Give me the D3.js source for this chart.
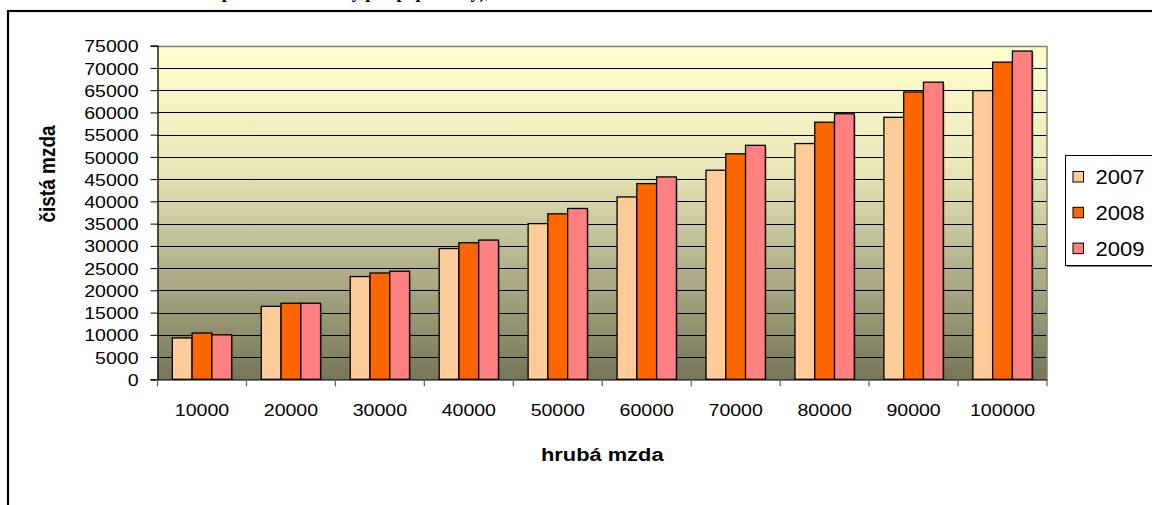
<!DOCTYPE html>
<html><head><meta charset="utf-8">
<script src="https://cdn.jsdelivr.net/npm/d3@7"></script>
<style>
html,body{margin:0;padding:0;background:#fff;}
svg{display:block;}
text{font-family:"Liberation Sans",Arial,sans-serif;}
</style></head>
<body>
<svg id="c" width="1152" height="505"></svg>
<script>
const categories = ["10000","20000","30000","40000","50000","60000","70000","80000","90000","100000"];
const years = ["2007","2008","2009"];
const v2007 = [9300,16400,23100,29400,35000,41000,47000,53000,58900,64900];
const v2008 = [10400,17100,23900,30700,37200,44000,50700,57800,64600,71300];
const v2009 = [10000,17100,24300,31300,38400,45500,52600,59700,66800,73800];
const yTicks = [0,5000,10000,15000,20000,25000,30000,35000,40000,45000,50000,55000,60000,65000,70000,75000];
const colors = ["#FFCC99","#FF6600","#FF8080"];
const title = "Čistá mzda podle hrubé mzdy pro poplatníky),";
const xTitle = "hrubá mzda";
const yTitle = "čistá mzda";

const series = [v2007, v2008, v2009];
const svg = d3.select("#c");
const L = 157.5, R = 1047, T = 45.7, B = 379.3;

const x = d3.scaleBand().domain(categories).range([L, R]).paddingInner(0).paddingOuter(0);
const xi = d3.scaleBand().domain(years).range([0, x.bandwidth()]).paddingInner(0).paddingOuter(0.75);
const y = d3.scaleLinear().domain([0, 75000]).range([B, T]);

// outer frame and title (clipped at the top edge, as in the reference)
svg.append("text").attr("x", 490).attr("y", -2).attr("text-anchor","end")
  .style("font-family","'Liberation Serif','Times New Roman',serif").style("font-weight","bold").style("font-size","18px")
  .text(title);
svg.append("rect").attr("x",8).attr("y",11).attr("width",1200).attr("height",600)
  .attr("fill","none").attr("stroke","#000").attr("stroke-width",2.2);

// plot background gradient
const defs = svg.append("defs");
const g = defs.append("linearGradient").attr("id","bg").attr("x1",0).attr("y1",0).attr("x2",0).attr("y2",1);
g.append("stop").attr("offset","0%").attr("stop-color","#FFFFCC");
g.append("stop").attr("offset","35%").attr("stop-color","#ECE9BA");
g.append("stop").attr("offset","100%").attr("stop-color","#767658");
svg.append("rect").attr("x",L).attr("y",T).attr("width",R-L).attr("height",B-T).attr("fill","url(#bg)");

// gridlines
svg.append("g").selectAll("line").data(yTicks.filter(d=>d>0 && d<75000)).join("line")
  .attr("x1",L).attr("x2",R).attr("y1",d=>Math.round(y(d))+0.5).attr("y2",d=>Math.round(y(d))+0.5)
  .attr("stroke","#000").attr("stroke-width",1);
// top & right border
svg.append("path").attr("d",`M${L},${Math.round(T)+0.5}H${R}V${B}`).attr("fill","none").attr("stroke","#808080").attr("stroke-width",1.5);

// bars
const groups = svg.append("g").selectAll("g").data(categories).join("g")
  .attr("transform", d=>`translate(${x(d)},0)`);
groups.each(function(cat, ci){
  const gg = d3.select(this);
  years.forEach((yr, si)=>{
    const v = series[si][ci];
    gg.append("rect").attr("x", xi(yr)+1.5).attr("y", y(v)+1.5).attr("width", xi.bandwidth()).attr("height", B - y(v)-1.5)
      .attr("fill","#000").attr("opacity",0.25);
  });
  years.forEach((yr, si)=>{
    const v = series[si][ci];
    gg.append("rect").attr("x", xi(yr)).attr("y", y(v)).attr("width", xi.bandwidth()).attr("height", B - y(v))
      .attr("fill", colors[si]).attr("stroke","#000").attr("stroke-width",1.3);
  });
});

// y axis
const sx = 1.15;
const ya = svg.append("g").attr("transform",`translate(${L},0)`)
  .call(d3.axisLeft(y).tickValues(yTicks).tickSize(7).tickPadding(0).tickFormat(d3.format("d")));
ya.select(".domain").attr("stroke","#000").attr("stroke-width",1.3);
ya.selectAll(".tick line").attr("stroke","#000");
ya.selectAll(".tick text").attr("x", -19/sx).attr("dy","0.36em").attr("transform",`scale(${sx},1)`)
  .style("font-size","17px").attr("fill","#000");

// x axis
const xa = svg.append("g").attr("transform",`translate(0,${B})`)
  .call(d3.axisBottom(x).tickSize(0).tickPadding(0));
xa.select(".domain").attr("stroke","#000").attr("stroke-width",1.3);
xa.selectAll(".tick text").remove();
xa.selectAll(".tick").append("text").attr("transform",`scale(${sx},1)`).attr("x",0).attr("y",37)
  .attr("text-anchor","middle").attr("fill","#000").style("font-size","17px").text(d=>d);
// category boundary ticks
svg.append("g").selectAll("line").data(categories.concat(["end"])).join("line")
  .attr("x1",(d,i)=> i<categories.length ? x(d) : R).attr("x2",(d,i)=> i<categories.length ? x(d) : R)
  .attr("y1",B).attr("y2",B+7).attr("stroke","#666").attr("stroke-width",1.3);

// axis titles
svg.append("text").attr("transform",`translate(${(L+R)/2},461) scale(${sx},1)`).attr("text-anchor","middle")
  .style("font-size","19px").style("font-weight","bold").text(xTitle);
svg.append("text").attr("transform",`translate(55,174) rotate(-90) scale(1,${sx})`).attr("text-anchor","middle")
  .style("font-size","19px").style("font-weight","bold").text(yTitle);

// legend
const lg = svg.append("g").attr("transform","translate(1065,155)");
lg.append("rect").attr("x",2).attr("y",2).attr("width",88).attr("height",110).attr("fill","#808080");
lg.append("rect").attr("x",0.5).attr("y",0.5).attr("width",88).attr("height",110).attr("fill","#fff").attr("stroke","#000");
years.forEach((yr,i)=>{
  const row = lg.append("g").attr("transform",`translate(0,${21.5+i*35.8})`);
  row.append("rect").attr("x",8).attr("y",-5).attr("width",10.5).attr("height",10.5).attr("fill",colors[i]).attr("stroke","#000");
  row.append("text").attr("transform","translate(30.5,0) scale(1.05,1)").attr("dy","0.36em").style("font-size","21px").text(yr);
});
</script>
</body></html>
